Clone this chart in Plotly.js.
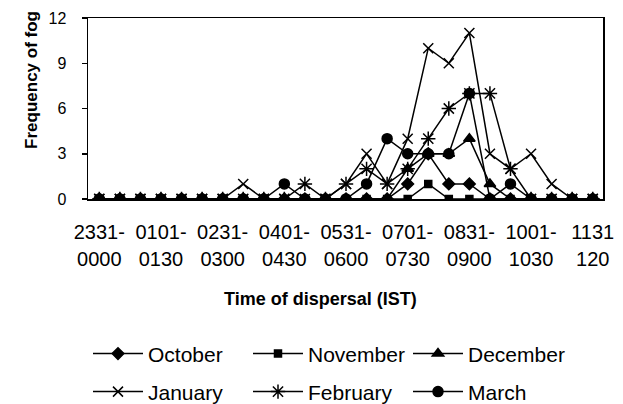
<!DOCTYPE html>
<html>
<head>
<meta charset="utf-8">
<script src="https://cdn.plot.ly/plotly-3.0.1.min.js"></script>
<style>html,body{margin:0;padding:0;background:#fff;}#chart{width:623px;height:404px;}</style>
</head>
<body>
<div id="chart"></div>
<script>
// Time bins (index 0..24), labelled every third bin
const binIndex = [0,1,2,3,4,5,6,7,8,9,10,11,12,13,14,15,16,17,18,19,20,21,22,23,24];
const tickIndex = [0,3,6,9,12,15,18,21,24];
const tickLine1 = ["2331-","0101-","0231-","0401-","0531-","0701-","0831-","1001-","1131"];
const tickLine2 = ["0000","0130","0300","0430","0600","0730","0900","1030","120"];

const october  = [0,0,0,0,0,0,0,0,0,0,0,0,0,0,0,1,3,1,1,0,0,0,0,0,0];
const november = [0,0,0,0,0,0,0,0,0,0,0,0,0,0,0,0,1,0,0,0,0,0,0,0,0];
const december = [0,0,0,0,0,0,0,0,0,0,0,0,0,0,0,2,3,3,4,1,0,0,0,0,0];
const january  = [0,0,0,0,0,0,0,1,0,0,0,0,1,3,1,4,10,9,11,3,2,3,1,0,0];
const february = [0,0,0,0,0,0,0,0,0,0,1,0,1,2,1,2,4,6,7,7,2,0,0,0,0];
const march    = [0,0,0,0,0,0,0,0,0,1,0,0,0,1,4,3,3,3,7,0,1,0,0,0,0];

const FONT = "Arial, 'Liberation Sans', sans-serif";

function tr(name, y, symbol, size, legend) {
  return {
    x: binIndex, y: y, name: name, type: "scatter", mode: "lines+markers",
    line: {color: "#000", width: 1.5},
    marker: {symbol: symbol, size: size, color: "#000", line: {color: "#000", width: 1.5}},
    legend: legend, xaxis: "x", yaxis: "y"
  };
}

const data = [
  tr("October", october, "diamond", 9, "legend"),
  tr("November", november, "square", 7, "legend"),
  tr("December", december, "triangle-up", 10, "legend"),
  tr("January", january, "x-thin-open", 10, "legend2"),
  tr("February", february, "asterisk-open", 12, "legend2"),
  tr("March", march, "circle", 10, "legend2"),
  // helper for second line of tick labels
  {x: [0, 24], y: [null, null], xaxis: "x2", yaxis: "y", showlegend: false, hoverinfo: "skip", mode: "markers"}
];

const layout = {
  width: 623, height: 404,
  margin: {l: 88, r: 20, t: 18, b: 205, pad: 0, autoexpand: false},
  paper_bgcolor: "#fff", plot_bgcolor: "#fff",
  font: {family: FONT, color: "#000"},
  xaxis: {
    range: [-0.55, 24.5], showgrid: false, zeroline: false,
    showline: true, linecolor: "#000", linewidth: 1.5, mirror: true,
    ticks: "", tickmode: "array", tickvals: tickIndex, ticktext: tickLine1,
    tickfont: {size: 20, family: FONT, color: "#000"}, ticklabelstandoff: 14
  },
  xaxis2: {
    overlaying: "x", side: "bottom", range: [-0.55, 24.5], showgrid: false, zeroline: false,
    showline: false, ticks: "", tickmode: "array", tickvals: tickIndex, ticktext: tickLine2,
    tickfont: {size: 20, family: FONT, color: "#000"}, ticklabelstandoff: 46
  },
  yaxis: {
    range: [0, 12], tickvals: [0,3,6,9,12], showgrid: false, zeroline: false,
    showline: true, linecolor: "#000", linewidth: 1.5, mirror: true,
    ticks: "outside", ticklen: 5, tickwidth: 1.5, tickcolor: "#000",
    tickfont: {size: 16, family: FONT, color: "#000"}, ticklabelstandoff: 12
  },
  annotations: [
    {text: "<b>Frequency of fog</b>", xref: "paper", yref: "paper", x: -0.111, y: 0.657,
     textangle: -90, showarrow: false, font: {size: 17, family: FONT, color: "#000"},
     xanchor: "center", yanchor: "middle"},
    {text: "<b>Time of dispersal (IST)</b>", xref: "paper", yref: "paper", x: 0.452, y: -0.5525,
     showarrow: false, font: {size: 18, family: FONT, color: "#000"},
     xanchor: "center", yanchor: "middle"}
  ],
  legend: {
    orientation: "h", x: 0.0, xanchor: "left", y: -0.856, yanchor: "middle",
    font: {size: 21, family: FONT, color: "#000"}, entrywidth: 95, entrywidthmode: "pixels",
    itemwidth: 50, bgcolor: "rgba(0,0,0,0)", tracegroupgap: 0
  },
  legend2: {
    orientation: "h", x: 0.0, xanchor: "left", y: -1.066, yanchor: "middle",
    font: {size: 21, family: FONT, color: "#000"}, entrywidth: 95, entrywidthmode: "pixels",
    itemwidth: 50, bgcolor: "rgba(0,0,0,0)", tracegroupgap: 0
  },
  showlegend: true
};

Plotly.newPlot("chart", data, layout, {displayModeBar: false, staticPlot: true});
</script>
</body>
</html>
